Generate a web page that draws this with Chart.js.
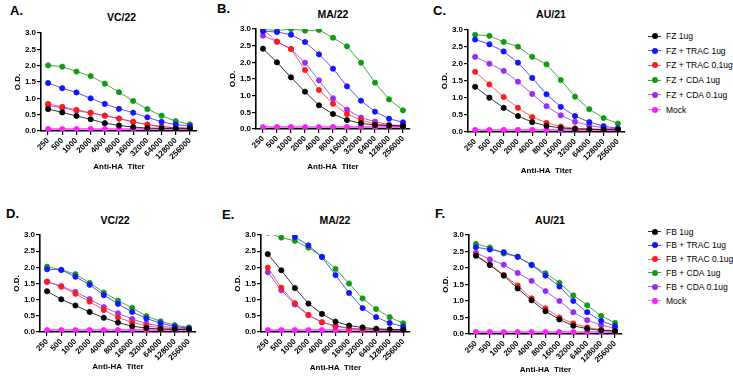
<!DOCTYPE html>
<html><head><meta charset="utf-8">
<script src="https://cdn.jsdelivr.net/npm/chart.js@4.4.1/dist/chart.umd.min.js"></script>
<style>
html,body{margin:0;padding:0;background:#fff}
#root{position:relative;width:733px;height:378px;overflow:hidden;background:#fff;font-family:"Liberation Sans",Arial,sans-serif;color:#000}
canvas{position:absolute}
.let{position:absolute;font-weight:bold;font-size:13px;line-height:13px;transform:translateY(-50%)}
.ttl{position:absolute;font-weight:bold;font-size:10.5px;line-height:11px;transform:translate(-50%,-50%);white-space:nowrap}
.li{position:absolute;height:10px;width:90px}
.li .ln{position:absolute;left:0;top:4.5px;width:13px;height:1px}
.li .dt{position:absolute;left:4px;top:2px;width:6px;height:6px;border-radius:50%}
.li .tx{position:absolute;left:18px;top:0;font-size:8.5px;line-height:10px;white-space:nowrap}
</style>
</head><body><div id="root"></div>
<script>
// ---------- DATA ----------
const titers = ['250','500','1000','2000','4000','8000','16000','32000','64000','128000','256000'];
const seriesFZ = ['FZ 1ug','FZ + TRAC 1ug','FZ + TRAC 0.1ug','FZ + CDA 1ug','FZ + CDA 0.1ug','Mock'];
const seriesFB = ['FB 1ug','FB + TRAC 1ug','FB + TRAC 0.1ug','FB + CDA 1ug','FB + CDA 0.1ug','Mock'];
const panelLetters = ['A.','B.','C.','D.','E.','F.'];
const panelTitles = ['VC/22','MA/22','AU/21','VC/22','MA/22','AU/21'];
const xTitle = 'Anti-HA  Titer';
const yTitle = 'O.D.';

// A. VC/22 (FZ)
const A_base   = [0.67,0.57,0.46,0.36,0.24,0.17,0.12,0.09,0.08,0.07,0.07];
const A_trac1  = [1.47,1.31,1.18,1.00,0.83,0.68,0.56,0.42,0.28,0.20,0.15];
const A_trac01 = [0.83,0.74,0.65,0.56,0.47,0.38,0.28,0.20,0.13,0.10,0.09];
const A_cda1   = [2.01,1.97,1.82,1.68,1.45,1.19,0.92,0.67,0.47,0.30,0.20];
const A_cda01  = [0.78,0.71,0.62,0.55,0.47,0.38,0.28,0.19,0.13,0.10,0.08];
const A_mock   = [0.06,0.06,0.06,0.06,0.06,0.06,0.06,0.06,0.06,0.06,0.06];
// B. MA/22 (FZ)
const B_base   = [2.41,2.00,1.55,1.12,0.71,0.45,0.27,0.17,0.12,0.10,0.09];
const B_trac1  = [2.93,2.91,2.83,2.61,2.24,1.81,1.28,0.85,0.52,0.31,0.20];
const B_trac01 = [2.98,2.62,2.40,1.77,1.17,0.76,0.45,0.27,0.15,0.11,0.09];
const B_cda1   = [2.99,2.95,3.00,2.95,2.97,2.74,2.48,1.99,1.39,0.89,0.56];
const B_cda01  = [2.80,2.62,2.40,1.99,1.46,0.92,0.58,0.34,0.22,0.13,0.10];
const B_mock   = [0.06,0.06,0.06,0.06,0.06,0.06,0.06,0.06,0.06,0.06,0.06];
// C. AU/21 (FZ)
const C_base   = [1.33,1.01,0.71,0.47,0.29,0.18,0.12,0.09,0.08,0.07,0.07];
const C_trac1  = [2.72,2.58,2.37,2.04,1.59,1.11,0.74,0.47,0.29,0.17,0.11];
const C_trac01 = [1.77,1.40,1.03,0.71,0.44,0.27,0.16,0.11,0.09,0.08,0.07];
const C_cda1   = [2.86,2.83,2.65,2.51,2.21,1.99,1.53,1.04,0.67,0.41,0.25];
const C_cda01  = [2.21,2.01,1.80,1.48,1.12,0.76,0.49,0.30,0.19,0.12,0.09];
const C_mock   = [0.06,0.06,0.06,0.06,0.06,0.06,0.06,0.06,0.06,0.06,0.06];
// D. VC/22 (FB)
const D_base   = [1.26,1.01,0.82,0.62,0.44,0.29,0.18,0.12,0.09,0.08,0.07];
const D_trac1  = [1.94,1.92,1.71,1.46,1.14,0.87,0.62,0.42,0.27,0.17,0.12];
const D_trac01 = [1.56,1.40,1.18,0.94,0.68,0.45,0.30,0.19,0.13,0.10,0.09];
const D_cda1   = [2.02,1.92,1.79,1.52,1.22,0.97,0.75,0.49,0.33,0.21,0.14];
const D_cda01  = [1.55,1.42,1.24,1.02,0.77,0.58,0.40,0.26,0.18,0.13,0.10];
const D_mock   = [0.06,0.06,0.06,0.06,0.06,0.06,0.06,0.06,0.06,0.06,0.06];
// E. MA/22 (FB)
const E_base   = [2.41,1.91,1.36,0.88,0.56,0.32,0.20,0.14,0.10,0.08,0.07];
const E_trac1  = [3.50,3.35,2.94,2.68,2.32,1.76,1.21,0.74,0.46,0.28,0.17];
const E_trac01 = [1.99,1.37,0.89,0.53,0.30,0.19,0.12,0.09,0.08,0.07,0.07];
const E_cda1   = [3.07,2.92,2.82,2.61,2.33,1.95,1.50,1.04,0.71,0.46,0.27];
const E_cda01  = [1.85,1.29,0.85,0.52,0.30,0.18,0.11,0.08,0.07,0.06,0.06];
const E_mock   = [0.06,0.06,0.06,0.06,0.06,0.06,0.06,0.06,0.06,0.06,0.06];
// F. AU/21 (FB)
const F_base   = [2.37,2.09,1.77,1.38,1.02,0.69,0.44,0.25,0.16,0.11,0.09];
const F_trac1  = [2.63,2.56,2.48,2.34,2.09,1.77,1.44,1.00,0.66,0.40,0.24];
const F_trac01 = [2.40,2.10,1.79,1.47,1.08,0.78,0.50,0.32,0.20,0.13,0.10];
const F_cda1   = [2.73,2.62,2.44,2.34,2.10,1.84,1.55,1.17,0.87,0.55,0.34];
const F_cda01  = [2.46,2.26,2.10,1.85,1.61,1.30,1.00,0.66,0.42,0.27,0.17];
const F_mock   = [0.06,0.06,0.06,0.06,0.06,0.06,0.06,0.06,0.06,0.06,0.06];

// ---------- STYLE / LAYOUT ----------
const colors = ['#000000','#1414ff','#ff1a1a','#139a13','#9a2cf2','#ff1cff'];
const lineColors = ['rgba(0,0,0,0.8)','rgba(40,40,255,0.8)','rgba(255,40,40,0.75)','rgba(20,150,20,0.8)','rgba(150,50,240,0.8)','rgba(255,60,255,0.75)'];
const panelSeries = [
  [A_base,A_trac1,A_trac01,A_cda1,A_cda01,A_mock],
  [B_base,B_trac1,B_trac01,B_cda1,B_cda01,B_mock],
  [C_base,C_trac1,C_trac01,C_cda1,C_cda01,C_mock],
  [D_base,D_trac1,D_trac01,D_cda1,D_cda01,D_mock],
  [E_base,E_trac1,E_trac01,E_cda1,E_cda01,E_mock],
  [F_base,F_trac1,F_trac01,F_cda1,F_cda01,F_mock]
];
// plot-area geometry in page pixels: L,R,T,B, x-title offset below axis
const geom = [
  {L:41,R:197,T:33,B:131,xt:36},
  {L:256,R:410,T:29,B:129,xt:38},
  {L:468,R:625,T:30,B:132,xt:39},
  {L:40,R:196,T:235,B:332,xt:35},
  {L:261,R:410,T:235,B:332,xt:35.5},
  {L:469,R:622,T:235,B:334,xt:36}
];
const letterPos = [[10,10],[217,8],[433,10],[6,213],[222,214],[435,213]];
const titlePos = [[121.5,17],[333,14],[551,13.5],[115,220],[335,220],[550,220]];
const legendTop = {x:648, ys:[36,50.7,65.4,80.1,94.8,109.5]};
const legendBottom = {x:648, ys:[231.5,245.3,259.1,272.9,286.7,300.5]};

const root = document.getElementById('root');
const YW = 30, XH = 50, PT = 6, PR = 6;
const FONT = '"Liberation Sans", Arial, sans-serif';

panelSeries.forEach((series, p) => {
  const g = geom[p];
  const cv = document.createElement('canvas');
  const W = g.R - g.L + YW + PR, H = g.B - g.T + PT + XH;
  cv.width = W; cv.height = H;
  cv.style.left = (g.L - YW) + 'px'; cv.style.top = (g.T - PT) + 'px';
  cv.style.width = W + 'px'; cv.style.height = H + 'px';
  root.appendChild(cv);
  const names = p < 3 ? seriesFZ : seriesFB;
  const clip = p === 4 ? {left:6,top:0,right:6,bottom:6} : undefined;
  const datasets = series.map((d, i) => ({
    label: names[i], data: d,
    borderColor: lineColors[i], backgroundColor: colors[i],
    pointBackgroundColor: colors[i], pointBorderColor: colors[i],
    borderWidth: i === 5 ? 2 : 1, pointRadius: 2.6, pointBorderWidth: 0.8,
    tension: 0, clip: clip
  }));
  new Chart(cv, {
    type: 'line',
    data: { labels: titers, datasets },
    options: {
      responsive: false, animation: false, devicePixelRatio: 1,
      layout: { padding: { left: 0, top: PT, right: PR, bottom: 0 } },
      plugins: { legend: { display: false }, tooltip: { enabled: false }, title: { display: false } },
      scales: {
        x: {
          type: 'category', offset: true,
          afterFit: s => { s.height = XH; },
          grid: { display: true, drawOnChartArea: false, drawTicks: true, tickLength: 4, color: '#000', lineWidth: 1.2, offset: false },
          border: { display: true, color: '#000', width: 1.6 },
          ticks: { autoSkip: false, maxRotation: 45, minRotation: 45, padding: 1, color: '#000', font: { family: FONT, size: 8, weight: 'bold' } },
          title: { display: true, text: xTitle, color: '#000', font: { family: FONT, size: 8, weight: 'bold' }, padding: { top: 0, bottom: XH - 4.8 - g.xt } }
        },
        y: {
          min: 0, max: 3,
          afterFit: s => { s.width = YW; },
          grid: { display: true, drawOnChartArea: false, drawTicks: true, tickLength: 4, color: '#000', lineWidth: 1.2 },
          border: { display: true, color: '#000', width: 1.6 },
          ticks: { stepSize: 0.5, padding: 1, color: '#000', font: { family: FONT, size: 8, weight: 'bold' }, callback: v => Number(v).toFixed(1) },
          title: { display: true, text: yTitle, color: '#000', font: { family: FONT, size: 8, weight: 'bold' }, padding: { top: 2.2, bottom: 0 } }
        }
      }
    }
  });
  const L = document.createElement('div');
  L.className = 'let'; L.textContent = panelLetters[p];
  L.style.left = letterPos[p][0] + 'px'; L.style.top = letterPos[p][1] + 'px';
  root.appendChild(L);
  const T = document.createElement('div');
  T.className = 'ttl'; T.textContent = panelTitles[p];
  T.style.left = titlePos[p][0] + 'px'; T.style.top = titlePos[p][1] + 'px';
  root.appendChild(T);
});

function legend(names, pos) {
  names.forEach((n, i) => {
    const it = document.createElement('div');
    it.className = 'li';
    it.style.left = pos.x + 'px'; it.style.top = (pos.ys[i] - 5) + 'px';
    it.innerHTML = '<div class="ln" style="background:' + lineColors[i] + '"></div><div class="dt" style="background:' + colors[i] + '"></div><div class="tx"></div>';
    it.querySelector('.tx').textContent = n;
    root.appendChild(it);
  });
}
legend(seriesFZ, legendTop);
legend(seriesFB, legendBottom);
</script>
</body></html>
